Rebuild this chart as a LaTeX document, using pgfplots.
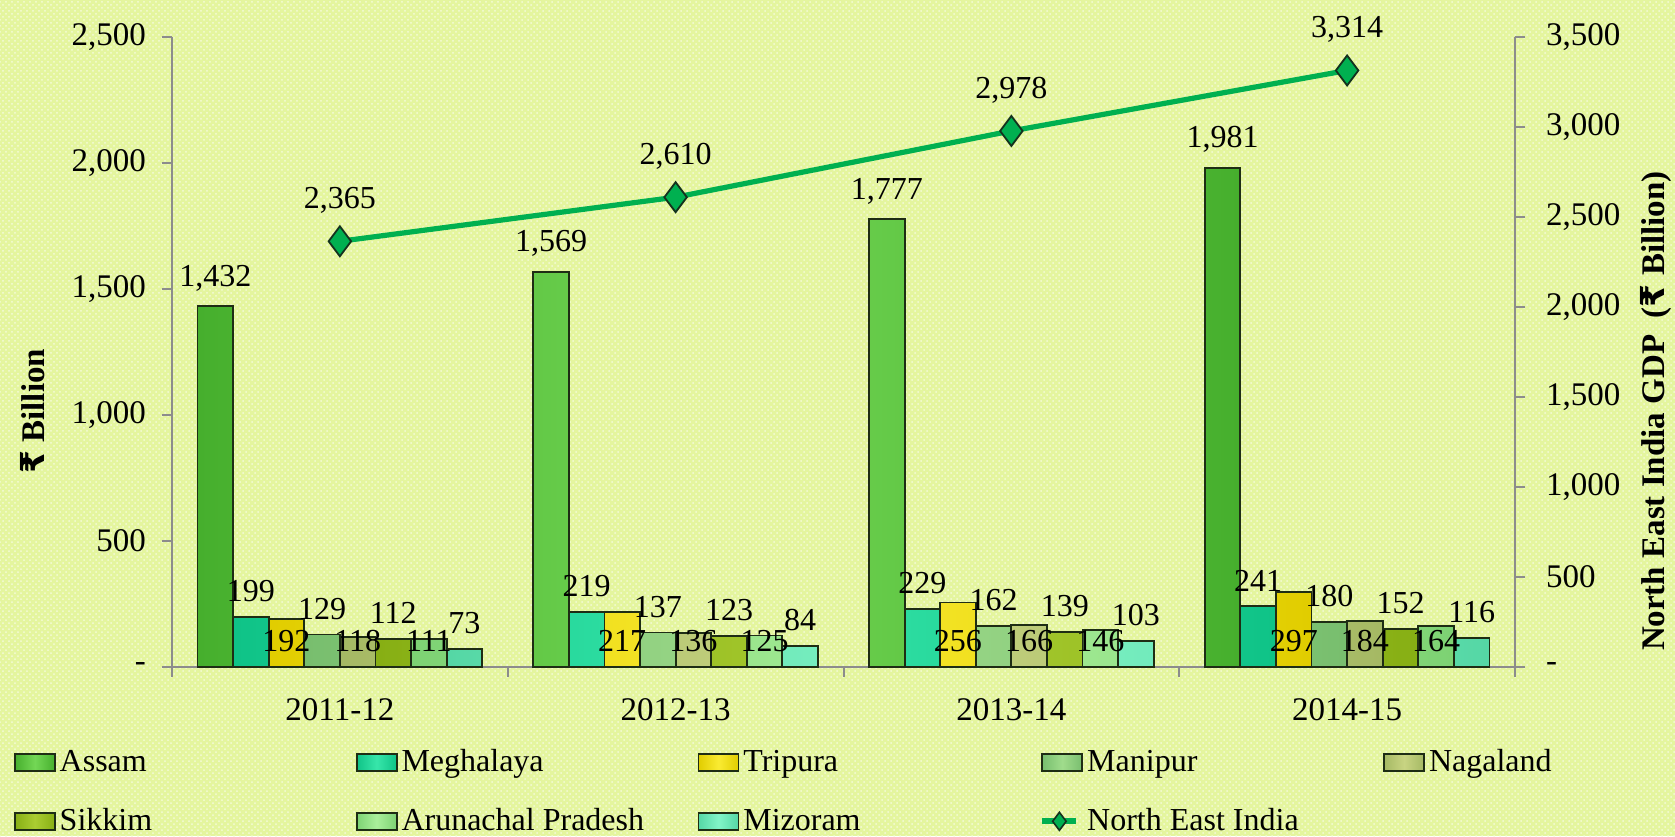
\documentclass[border=0pt]{standalone}
\usepackage{fontspec}
\setmainfont{Liberation Serif}
\newfontfamily\rupee{DejaVu Sans}
\usepackage{pgfplots}
\usepackage{pgfplotstable}
\pgfplotsset{compat=1.18}
\usetikzlibrary{patterns}

\definecolor{bg}{RGB}{228,245,158}
\definecolor{bardark}{RGB}{30,45,20}
\definecolor{axgray}{RGB}{140,140,140}
\definecolor{assamA}{RGB}{70,175,45}\definecolor{assamB}{RGB}{115,215,85}
\definecolor{meghA}{RGB}{15,195,135}\definecolor{meghB}{RGB}{55,230,170}
\definecolor{tripA}{RGB}{225,205,0}\definecolor{tripB}{RGB}{250,235,50}
\definecolor{maniA}{RGB}{120,190,110}\definecolor{maniB}{RGB}{160,220,140}
\definecolor{nagaA}{RGB}{165,185,100}\definecolor{nagaB}{RGB}{200,212,130}
\definecolor{sikkA}{RGB}{135,175,20}\definecolor{sikkB}{RGB}{170,205,50}
\definecolor{arunA}{RGB}{125,210,115}\definecolor{arunB}{RGB}{170,240,155}
\definecolor{mizoA}{RGB}{85,215,165}\definecolor{mizoB}{RGB}{130,245,200}
\definecolor{linegreen}{RGB}{0,176,80}
\definecolor{markdark}{RGB}{20,50,30}

\pgfplotstableread{
x assam megh trip mani naga sikk arun mizo ne
0 1432 199 192 129 118 112 111 73 2365
1 1569 219 217 137 136 123 125 84 2610
2 1777 229 256 162 166 139 146 103 2978
3 1981 241 297 180 184 152 164 116 3314
}\datatable

\pgfkeys{/pgf/number format/.cd, 1000 sep={,}, assume math mode=true}

\pgfplotsset{
  mybar/.style n args={3}{ybar, bar width=0.106, bar shift=#1,
    draw=bardark, line width=0.9pt,
    left color=#2, right color=#2, middle color=#3,
    legend image code/.code={\draw[##1,line width=0.9pt,left color=#2, right color=#2, middle color=#3] (0pt,-4.25pt) rectangle (20pt,4.25pt);}},
  vallab/.style={draw=none, mark=none, forget plot,
    point meta=explicit,
    nodes near coords={\pgfmathprintnumber{\pgfplotspointmeta}},
    every node near coord/.append style={anchor=south, yshift=4pt, font=\fontsize{16}{19}\selectfont}},
}
\newcommand{\legent}[1]{\addlegendentry{\makebox[146pt][l]{#1}}}

\begin{document}
\begin{tikzpicture}
\useasboundingbox (0,0) rectangle (837.5pt,418pt);
\fill[bg] (0,0) rectangle (837.5pt,418pt);
\fill[pattern=crosshatch dots, pattern color=white!60!bg] (0,0) rectangle (837.5pt,418pt);

\begin{axis}[
  at={(86pt,84.5pt)}, anchor=south west,
  width=671.5pt, height=315pt, scale only axis,
  font=\fontsize{16.5}{19}\selectfont,
  xmin=-0.5, xmax=3.5, ymin=0, ymax=2500,
  axis x line*=bottom, axis y line*=left,
  axis line style={draw=axgray, line width=1pt},
  tick style={draw=axgray, line width=1pt},
  tick align=outside,
  xtick={0,1,2,3}, xticklabels={2011-12,2012-13,2013-14,2014-15},
  major x tick style={draw=none},
  minor xtick={-0.5,0.5,1.5,2.5,3.5},
  minor tick length=5pt, major tick length=5pt,
  xticklabel style={yshift=-7pt},
  ytick={0,500,1000,1500,2000,2500},
  yticklabels={{-},{500},{1,000},{1,500},{2,000},{2,500}},
  yticklabel style={xshift=-4.5pt},
  ylabel={\bfseries{\rupee ₹} Billion},
  ylabel style={at={(axis description cs:-0.104,0.406)}, anchor=center},
  legend columns=5,
  legend cell align=left,
  legend style={at={(axis description cs:-0.118,-0.124)}, anchor=north west,
    draw=none, fill=none, inner sep=0pt, row sep=13pt,
    font=\fontsize{16}{19}\selectfont,
    /tikz/every odd column/.append style={column sep=0pt},
    /tikz/every even column/.append style={column sep=0pt}},
]
\addplot[mybar={-0.371}{assamA}{assamB}] table[x=x,y=assam]{\datatable}; \legent{Assam}
\addplot[mybar={-0.265}{meghA}{meghB}] table[x=x,y=megh]{\datatable}; \legent{Meghalaya}
\addplot[mybar={-0.159}{tripA}{tripB}] table[x=x,y=trip]{\datatable}; \legent{Tripura}
\addplot[mybar={-0.053}{maniA}{maniB}] table[x=x,y=mani]{\datatable}; \legent{Manipur}
\addplot[mybar={0.053}{nagaA}{nagaB}] table[x=x,y=naga]{\datatable}; \legent{Nagaland}
\addplot[mybar={0.159}{sikkA}{sikkB}] table[x=x,y=sikk]{\datatable}; \legent{Sikkim}
\addplot[mybar={0.265}{arunA}{arunB}] table[x=x,y=arun]{\datatable}; \legent{Arunachal Pradesh}
\addplot[mybar={0.371}{mizoA}{mizoB}] table[x=x,y=mizo]{\datatable}; \legent{Mizoram}
\addlegendimage{color=linegreen, line width=3pt, mark=diamond*, mark size=4.5pt,
  mark options={fill=linegreen, draw=markdark, line width=0.8pt}}
\addlegendentry{North East India}

\addplot[vallab] table[x expr=\thisrow{x}-0.371,y=assam,meta=assam]{\datatable};
\addplot[vallab] table[x expr=\thisrow{x}-0.265,y=megh,meta=megh]{\datatable};
\addplot[vallab] table[x expr=\thisrow{x}-0.053,y=mani,meta=mani]{\datatable};
\addplot[vallab] table[x expr=\thisrow{x}+0.159,y=sikk,meta=sikk]{\datatable};
\addplot[vallab] table[x expr=\thisrow{x}+0.371,y=mizo,meta=mizo]{\datatable};
\addplot[vallab] table[x expr=\thisrow{x}-0.159,y expr=0,meta=trip]{\datatable};
\addplot[vallab] table[x expr=\thisrow{x}+0.053,y expr=0,meta=naga]{\datatable};
\addplot[vallab] table[x expr=\thisrow{x}+0.265,y expr=0,meta=arun]{\datatable};
\end{axis}

\begin{axis}[
  at={(86pt,84.5pt)}, anchor=south west,
  width=671.5pt, height=315pt, scale only axis,
  font=\fontsize{16.5}{19}\selectfont,
  xmin=-0.5, xmax=3.5, ymin=0, ymax=3500,
  axis x line=none, axis y line*=right,
  axis line style={draw=axgray, line width=1pt},
  tick style={draw=axgray, line width=1pt},
  tick align=outside, major tick length=5pt,
  ytick={0,500,1000,1500,2000,2500,3000,3500},
  yticklabels={{-},{500},{1,000},{1,500},{2,000},{2,500},{3,000},{3,500}},
  yticklabel style={xshift=7pt},
  ylabel={\bfseries North East India GDP\ \ ({\rupee ₹} Billion)},
  ylabel style={at={(axis description cs:1.105,0.406)}, anchor=center},
]
\addplot[color=linegreen, line width=2.6pt, mark=diamond*, mark size=7.5pt,
  mark options={fill=linegreen, draw=markdark, line width=0.9pt},
  nodes near coords={\pgfmathprintnumber{\pgfplotspointmeta}},
  every node near coord/.append style={yshift=10pt, font=\fontsize{16}{19}\selectfont, text=black}]
  table[x=x,y=ne]{\datatable};
\end{axis}
\end{tikzpicture}
\end{document}
